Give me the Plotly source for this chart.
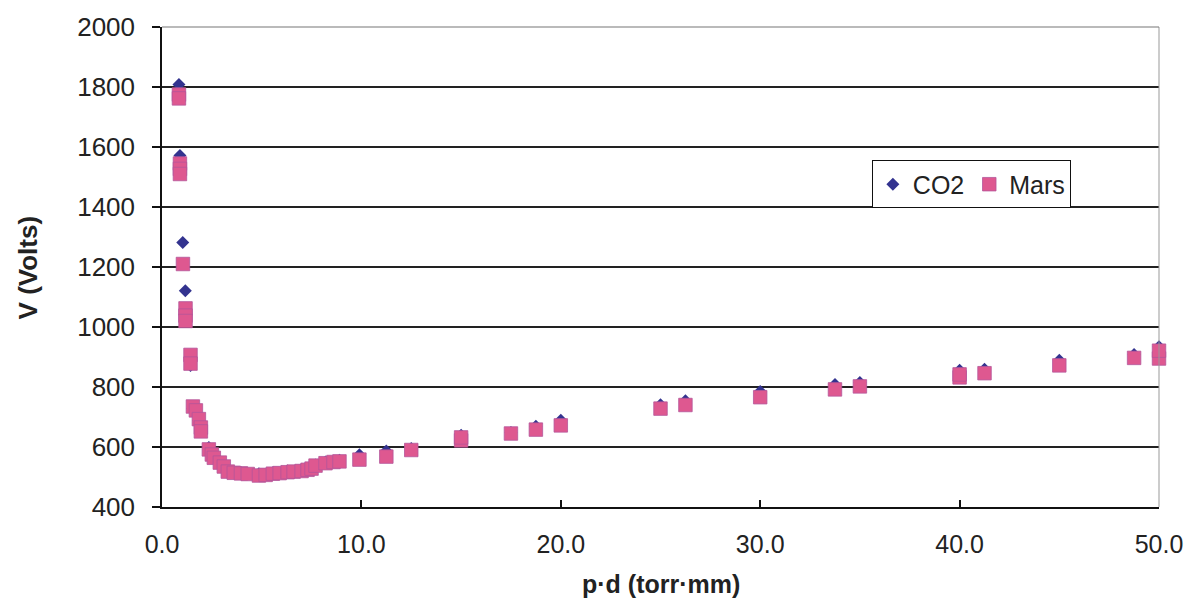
import plotly.graph_objects as go

# CO2 series (p·d in torr·mm, breakdown voltage in V)
co2_pd = [0.85, 0.9, 1.04, 1.17, 1.43, 1.55, 1.85, 1.95, 2.35, 2.6, 2.9, 3.3, 3.96,
          4.86, 5.56, 6.3, 7.0, 7.7, 8.2, 8.9, 9.9, 11.25, 12.5, 15.0, 17.5, 18.75,
          20.0, 25.0, 26.25, 30.0, 33.75, 35.0, 40.0, 41.25, 45.0, 48.75, 50.0]
co2_v = [1808, 1572, 1282, 1121, 872, 728, 688, 660, 598, 568, 552, 522, 515,
         511, 514, 520, 524, 540, 550, 556, 574, 587, 595, 639, 648, 669,
         689, 741, 754, 785, 808, 815, 856, 859, 889, 908, 934]

# Mars gas mixture series
mars_pd = [0.85, 0.85, 0.9, 0.9, 0.9, 1.05, 1.18, 1.18, 1.18, 1.43, 1.43, 1.55, 1.7,
           1.85, 1.95, 1.95, 2.35, 2.5, 2.6, 2.9, 3.1, 3.3, 3.6, 3.96, 4.3, 4.86,
           5.2, 5.56, 5.9, 6.3, 6.6, 7.0, 7.3, 7.5, 7.7, 8.2, 8.6, 8.9, 9.9, 11.25,
           12.5, 15.0, 15.0, 17.5, 18.75, 20.0, 25.0, 26.25, 30.0, 33.75, 35.0,
           40.0, 40.0, 41.25, 45.0, 48.75, 50.0, 50.0]
mars_v = [1775, 1762, 1545, 1527, 1510, 1210, 1062, 1038, 1020, 907, 878, 735, 722,
          693, 665, 652, 592, 575, 564, 548, 535, 518, 514, 512, 510, 505,
          507, 511, 513, 516, 518, 520, 524, 528, 538, 546, 550, 552, 558, 568,
          590, 622, 632, 645, 658, 672, 728, 740, 766, 792, 802,
          832, 842, 846, 872, 897, 895, 921]

x_ticks = [0, 10, 20, 30, 40, 50]
x_tick_labels = ["0.0", "10.0", "20.0", "30.0", "40.0", "50.0"]
y_ticks = [400, 600, 800, 1000, 1200, 1400, 1600, 1800, 2000]

FONT = "Liberation Sans, Arial, sans-serif"

fig = go.Figure()
fig.add_trace(go.Scatter(
    x=co2_pd, y=co2_v, mode="markers", name="CO2", cliponaxis=False,
    marker=dict(symbol="diamond", size=10, color="#33338f", line=dict(width=0)),
))
fig.add_trace(go.Scatter(
    x=mars_pd, y=mars_v, mode="markers", name="Mars", cliponaxis=False,
    marker=dict(symbol="square", size=13.5, color="#de5890",
                line=dict(width=0.8, color="#b4559a")),
))

fig.update_layout(
    width=1195, height=614,
    margin=dict(l=162, r=35, t=19, b=107),
    paper_bgcolor="white", plot_bgcolor="white",
    font=dict(family=FONT, color="#222222"),
    showlegend=True,
    legend=dict(
        orientation="h", x=0.712, y=0.722, xanchor="left", yanchor="top",
        bgcolor="white", bordercolor="#111111", borderwidth=1,
        font=dict(size=25, family=FONT, color="#222222"),
        itemwidth=30, tracegroupgap=0,
    ),
    xaxis=dict(
        range=[0, 50], tickvals=x_ticks, ticktext=x_tick_labels,
        showgrid=False, zeroline=False,
        showline=True, linecolor="#111111", linewidth=1.5,
        ticks="inside", ticklen=7, tickcolor="#111111", tickwidth=1.5,
        tickfont=dict(size=25, family=FONT, color="#222222"),
        ticklabelstandoff=14,
        mirror=False,
    ),
    yaxis=dict(
        range=[400, 2000], tickvals=y_ticks,
        showgrid=True, gridcolor="#222222", gridwidth=1.5,
        zeroline=False,
        showline=True, linecolor="#111111", linewidth=1.5,
        ticks="outside", ticklen=8, tickcolor="#111111", tickwidth=1.5,
        tickfont=dict(size=26, family=FONT, color="#222222"),
        ticklabelstandoff=12,
    ),
    annotations=[
        dict(text="<b>V (Volts)</b>", textangle=-90, xref="paper", yref="paper",
             x=-0.134, y=0.5, xanchor="center", yanchor="middle", showarrow=False,
             font=dict(size=26, family=FONT, color="#222222")),
        dict(text="<b>p·d (torr·mm)</b>", xref="paper", yref="paper",
             x=0.501, y=-0.16, xanchor="center", yanchor="middle", showarrow=False,
             font=dict(size=25, family=FONT, color="#222222")),
    ],
    shapes=[
        dict(type="line", xref="paper", yref="paper", x0=1, x1=1, y0=0, y1=1,
             line=dict(color="#999999", width=1)),
        dict(type="line", xref="paper", yref="paper", x0=0, x1=1, y0=1, y1=1,
             line=dict(color="#777777", width=1.2)),
    ],
)

fig.write_html("out.html")
